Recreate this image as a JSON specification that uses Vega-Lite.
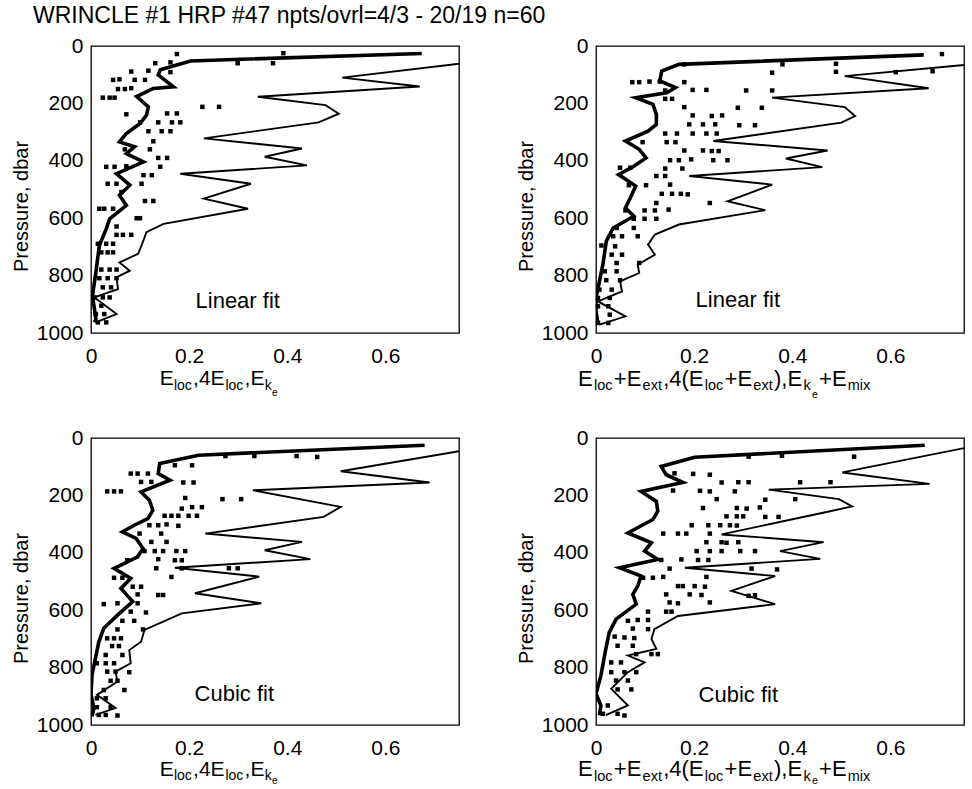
{
"$schema": "https://vega.github.io/schema/vega-lite/v6.json",
"padding": {"left": 10, "top": 5, "right": 0, "bottom": 0},
"background": "white",
"title": {"text": "WRINCLE #1 HRP #47 npts/ovrl=4/3 - 20/19 n=60", "anchor": "start", "frame": "group", "fontSize": 23, "fontWeight": "normal", "font": "Liberation Sans", "color": "black", "dx": -58, "offset": 6},
"config": {
  "font": "Liberation Sans",
  "view": {"stroke": "black", "strokeWidth": 1.3},
  "axis": {"grid": false, "domain": false, "ticks": false, "tickSize": 0, "labelFontSize": 21, "labelColor": "black", "titleColor": "black", "titleFontWeight": "normal", "labelFont": "Liberation Sans", "titleFont": "Liberation Sans"}
},
"datasets": {
  "tl_bold": [{"x":0.674,"p":26},{"x":0.203,"p":52},{"x":0.141,"p":83},{"x":0.137,"p":101},{"x":0.168,"p":142},{"x":0.127,"p":148},{"x":0.093,"p":176},{"x":0.117,"p":212},{"x":0.113,"p":241},{"x":0.100,"p":270},{"x":0.072,"p":305},{"x":0.058,"p":334},{"x":0.089,"p":351},{"x":0.072,"p":375},{"x":0.107,"p":404},{"x":0.052,"p":445},{"x":0.079,"p":485},{"x":0.058,"p":520},{"x":0.072,"p":555},{"x":0.038,"p":602},{"x":0.031,"p":637},{"x":0.017,"p":695},{"x":0.010,"p":788},{"x":0.003,"p":870},{"x":0.007,"p":916},{"x":0.010,"p":952},{"x":0.007,"p":963}],
  "tl_thin": [{"x":0.8,"p":52},{"x":0.512,"p":110},{"x":0.67,"p":141},{"x":0.34,"p":177},{"x":0.478,"p":206},{"x":0.505,"p":236},{"x":0.464,"p":266},{"x":0.23,"p":322},{"x":0.43,"p":357},{"x":0.354,"p":386},{"x":0.44,"p":416},{"x":0.182,"p":445},{"x":0.326,"p":480},{"x":0.23,"p":532},{"x":0.32,"p":567},{"x":0.148,"p":620},{"x":0.113,"p":649},{"x":0.103,"p":695},{"x":0.096,"p":724},{"x":0.058,"p":754},{"x":0.079,"p":783},{"x":0.052,"p":806},{"x":0.055,"p":847},{"x":0.007,"p":876},{"x":0.052,"p":934},{"x":0.01,"p":963}],
  "tl_pts": [{"x":0.175,"p":28},{"x":0.392,"p":25},{"x":0.131,"p":60},{"x":0.162,"p":57},{"x":0.299,"p":60},{"x":0.371,"p":60},{"x":0.082,"p":89},{"x":0.117,"p":86},{"x":0.162,"p":91},{"x":0.045,"p":118},{"x":0.058,"p":116},{"x":0.089,"p":118},{"x":0.110,"p":118},{"x":0.055,"p":150},{"x":0.069,"p":150},{"x":0.082,"p":147},{"x":0.024,"p":180},{"x":0.038,"p":180},{"x":0.048,"p":180},{"x":0.227,"p":212},{"x":0.261,"p":212},{"x":0.072,"p":238},{"x":0.155,"p":235},{"x":0.175,"p":235},{"x":0.100,"p":266},{"x":0.137,"p":266},{"x":0.165,"p":266},{"x":0.182,"p":266},{"x":0.117,"p":297},{"x":0.144,"p":297},{"x":0.162,"p":297},{"x":0.127,"p":332},{"x":0.069,"p":360},{"x":0.120,"p":360},{"x":0.137,"p":390},{"x":0.155,"p":390},{"x":0.031,"p":421},{"x":0.048,"p":421},{"x":0.072,"p":419},{"x":0.141,"p":421},{"x":0.107,"p":450},{"x":0.124,"p":450},{"x":0.034,"p":480},{"x":0.052,"p":480},{"x":0.103,"p":480},{"x":0.062,"p":509},{"x":0.110,"p":540},{"x":0.127,"p":540},{"x":0.017,"p":567},{"x":0.027,"p":567},{"x":0.045,"p":567},{"x":0.093,"p":600},{"x":0.100,"p":600},{"x":0.052,"p":629},{"x":0.052,"p":658},{"x":0.065,"p":658},{"x":0.082,"p":658},{"x":0.014,"p":689},{"x":0.031,"p":689},{"x":0.045,"p":689},{"x":0.021,"p":719},{"x":0.034,"p":719},{"x":0.045,"p":719},{"x":0.021,"p":779},{"x":0.038,"p":779},{"x":0.052,"p":779},{"x":0.017,"p":809},{"x":0.034,"p":809},{"x":0.052,"p":809},{"x":0.024,"p":841},{"x":0.041,"p":841},{"x":0.007,"p":876},{"x":0.024,"p":876},{"x":0.038,"p":876},{"x":0.021,"p":905},{"x":0.010,"p":934},{"x":0.027,"p":934},{"x":0.014,"p":963},{"x":0.031,"p":963}],
  "tr_bold": [{"x":0.668,"p":31},{"x":0.169,"p":64},{"x":0.134,"p":87},{"x":0.130,"p":122},{"x":0.162,"p":145},{"x":0.144,"p":163},{"x":0.081,"p":180},{"x":0.116,"p":203},{"x":0.123,"p":238},{"x":0.123,"p":273},{"x":0.106,"p":297},{"x":0.060,"p":331},{"x":0.088,"p":360},{"x":0.102,"p":390},{"x":0.077,"p":419},{"x":0.046,"p":448},{"x":0.081,"p":488},{"x":0.070,"p":529},{"x":0.060,"p":564},{"x":0.077,"p":593},{"x":0.035,"p":634},{"x":0.021,"p":680},{"x":0.014,"p":762},{"x":0.007,"p":820},{"x":0.0,"p":878},{"x":0.0,"p":924},{"x":0.004,"p":965}],
  "tr_thin": [{"x":0.8,"p":58},{"x":0.507,"p":105},{"x":0.678,"p":147},{"x":0.359,"p":180},{"x":0.507,"p":213},{"x":0.528,"p":244},{"x":0.5,"p":267},{"x":0.239,"p":331},{"x":0.472,"p":364},{"x":0.387,"p":392},{"x":0.461,"p":422},{"x":0.190,"p":453},{"x":0.359,"p":483},{"x":0.268,"p":541},{"x":0.345,"p":572},{"x":0.169,"p":622},{"x":0.120,"p":657},{"x":0.106,"p":692},{"x":0.120,"p":727},{"x":0.085,"p":762},{"x":0.088,"p":791},{"x":0.049,"p":820},{"x":0.053,"p":855},{"x":0.004,"p":890},{"x":0.060,"p":942},{"x":0.007,"p":971}],
  "tr_pts": [{"x":0.180,"p":64},{"x":0.380,"p":64},{"x":0.359,"p":93},{"x":0.489,"p":62},{"x":0.489,"p":90},{"x":0.705,"p":28},{"x":0.686,"p":88},{"x":0.611,"p":91},{"x":0.074,"p":126},{"x":0.088,"p":126},{"x":0.109,"p":124},{"x":0.130,"p":124},{"x":0.180,"p":126},{"x":0.141,"p":155},{"x":0.197,"p":153},{"x":0.225,"p":153},{"x":0.306,"p":155},{"x":0.359,"p":155},{"x":0.141,"p":184},{"x":0.155,"p":184},{"x":0.180,"p":213},{"x":0.289,"p":215},{"x":0.338,"p":215},{"x":0.197,"p":242},{"x":0.236,"p":244},{"x":0.257,"p":242},{"x":0.190,"p":273},{"x":0.218,"p":273},{"x":0.243,"p":273},{"x":0.292,"p":276},{"x":0.324,"p":276},{"x":0.141,"p":305},{"x":0.165,"p":305},{"x":0.197,"p":305},{"x":0.225,"p":305},{"x":0.246,"p":305},{"x":0.095,"p":335},{"x":0.144,"p":335},{"x":0.162,"p":335},{"x":0.180,"p":364},{"x":0.218,"p":364},{"x":0.236,"p":366},{"x":0.250,"p":366},{"x":0.151,"p":398},{"x":0.169,"p":398},{"x":0.194,"p":395},{"x":0.239,"p":398},{"x":0.268,"p":398},{"x":0.049,"p":424},{"x":0.070,"p":424},{"x":0.141,"p":427},{"x":0.176,"p":427},{"x":0.123,"p":453},{"x":0.141,"p":453},{"x":0.067,"p":485},{"x":0.102,"p":485},{"x":0.151,"p":483},{"x":0.134,"p":515},{"x":0.155,"p":515},{"x":0.173,"p":515},{"x":0.187,"p":517},{"x":0.232,"p":547},{"x":0.123,"p":547},{"x":0.060,"p":573},{"x":0.099,"p":573},{"x":0.120,"p":573},{"x":0.148,"p":570},{"x":0.077,"p":602},{"x":0.099,"p":602},{"x":0.123,"p":602},{"x":0.042,"p":634},{"x":0.077,"p":634},{"x":0.035,"p":663},{"x":0.053,"p":663},{"x":0.085,"p":663},{"x":0.011,"p":695},{"x":0.039,"p":698},{"x":0.032,"p":727},{"x":0.053,"p":727},{"x":0.042,"p":756},{"x":0.088,"p":756},{"x":0.018,"p":785},{"x":0.042,"p":785},{"x":0.021,"p":816},{"x":0.049,"p":816},{"x":0.007,"p":849},{"x":0.032,"p":849},{"x":0.004,"p":878},{"x":0.028,"p":878},{"x":0.004,"p":907},{"x":0.025,"p":907},{"x":0.028,"p":936},{"x":0.004,"p":965},{"x":0.025,"p":965}],
  "bl_bold": [{"x":0.68,"p":25},{"x":0.219,"p":60},{"x":0.140,"p":89},{"x":0.137,"p":124},{"x":0.161,"p":147},{"x":0.102,"p":188},{"x":0.119,"p":217},{"x":0.126,"p":252},{"x":0.116,"p":281},{"x":0.088,"p":304},{"x":0.064,"p":327},{"x":0.092,"p":350},{"x":0.106,"p":385},{"x":0.095,"p":414},{"x":0.047,"p":454},{"x":0.081,"p":489},{"x":0.061,"p":524},{"x":0.085,"p":570},{"x":0.054,"p":617},{"x":0.026,"p":663},{"x":0.016,"p":710},{"x":0.009,"p":768},{"x":0.002,"p":826},{"x":0.0,"p":895},{"x":0.006,"p":941},{"x":0.002,"p":970}],
  "bl_thin": [{"x":0.85,"p":17},{"x":0.509,"p":116},{"x":0.69,"p":155},{"x":0.33,"p":182},{"x":0.509,"p":240},{"x":0.474,"p":275},{"x":0.233,"p":333},{"x":0.43,"p":362},{"x":0.354,"p":391},{"x":0.447,"p":422},{"x":0.171,"p":452},{"x":0.343,"p":483},{"x":0.212,"p":541},{"x":0.347,"p":576},{"x":0.185,"p":611},{"x":0.109,"p":669},{"x":0.102,"p":710},{"x":0.078,"p":739},{"x":0.081,"p":785},{"x":0.05,"p":814},{"x":0.054,"p":849},{"x":0.012,"p":895},{"x":0.05,"p":941},{"x":0.009,"p":965}],
  "bl_pts": [{"x":0.419,"p":63},{"x":0.461,"p":66},{"x":0.333,"p":63},{"x":0.274,"p":63},{"x":0.171,"p":95},{"x":0.206,"p":95},{"x":0.081,"p":124},{"x":0.095,"p":124},{"x":0.116,"p":124},{"x":0.102,"p":153},{"x":0.123,"p":153},{"x":0.188,"p":155},{"x":0.209,"p":155},{"x":0.033,"p":186},{"x":0.047,"p":186},{"x":0.061,"p":186},{"x":0.192,"p":209},{"x":0.268,"p":213},{"x":0.306,"p":213},{"x":0.185,"p":246},{"x":0.206,"p":241},{"x":0.226,"p":241},{"x":0.150,"p":271},{"x":0.164,"p":271},{"x":0.178,"p":271},{"x":0.199,"p":271},{"x":0.216,"p":271},{"x":0.119,"p":304},{"x":0.137,"p":304},{"x":0.154,"p":301},{"x":0.178,"p":306},{"x":0.099,"p":333},{"x":0.143,"p":333},{"x":0.123,"p":362},{"x":0.154,"p":362},{"x":0.109,"p":394},{"x":0.130,"p":394},{"x":0.147,"p":394},{"x":0.174,"p":394},{"x":0.192,"p":394},{"x":0.074,"p":426},{"x":0.137,"p":422},{"x":0.171,"p":426},{"x":0.185,"p":426},{"x":0.133,"p":454},{"x":0.185,"p":454},{"x":0.281,"p":454},{"x":0.299,"p":454},{"x":0.047,"p":487},{"x":0.064,"p":487},{"x":0.164,"p":484},{"x":0.085,"p":518},{"x":0.102,"p":518},{"x":0.095,"p":545},{"x":0.137,"p":547},{"x":0.147,"p":547},{"x":0.026,"p":579},{"x":0.054,"p":576},{"x":0.095,"p":576},{"x":0.081,"p":605},{"x":0.112,"p":608},{"x":0.064,"p":637},{"x":0.088,"p":637},{"x":0.054,"p":667},{"x":0.106,"p":667},{"x":0.033,"p":698},{"x":0.047,"p":698},{"x":0.061,"p":698},{"x":0.043,"p":725},{"x":0.057,"p":725},{"x":0.030,"p":756},{"x":0.064,"p":756},{"x":0.012,"p":785},{"x":0.030,"p":785},{"x":0.047,"p":785},{"x":0.033,"p":814},{"x":0.050,"p":814},{"x":0.078,"p":816},{"x":0.040,"p":846},{"x":0.054,"p":846},{"x":0.026,"p":878},{"x":0.068,"p":878},{"x":0.012,"p":907},{"x":0.030,"p":907},{"x":0.012,"p":938},{"x":0.040,"p":938},{"x":0.016,"p":965},{"x":0.030,"p":965},{"x":0.054,"p":967}],
  "br_bold": [{"x":0.67,"p":25},{"x":0.201,"p":67},{"x":0.133,"p":99},{"x":0.143,"p":128},{"x":0.177,"p":155},{"x":0.092,"p":186},{"x":0.123,"p":221},{"x":0.126,"p":255},{"x":0.116,"p":284},{"x":0.065,"p":331},{"x":0.113,"p":365},{"x":0.099,"p":394},{"x":0.126,"p":423},{"x":0.048,"p":452},{"x":0.092,"p":481},{"x":0.085,"p":516},{"x":0.075,"p":545},{"x":0.082,"p":579},{"x":0.041,"p":631},{"x":0.027,"p":677},{"x":0.020,"p":735},{"x":0.010,"p":828},{"x":0.0,"p":891},{"x":0.010,"p":932},{"x":0.007,"p":966}],
  "br_thin": [{"x":0.78,"p":25},{"x":0.502,"p":120},{"x":0.68,"p":160},{"x":0.352,"p":180},{"x":0.495,"p":213},{"x":0.522,"p":238},{"x":0.47,"p":258},{"x":0.256,"p":336},{"x":0.464,"p":363},{"x":0.375,"p":394},{"x":0.457,"p":421},{"x":0.181,"p":452},{"x":0.365,"p":481},{"x":0.276,"p":533},{"x":0.365,"p":579},{"x":0.167,"p":620},{"x":0.119,"p":666},{"x":0.113,"p":700},{"x":0.123,"p":735},{"x":0.065,"p":758},{"x":0.099,"p":782},{"x":0.065,"p":816},{"x":0.031,"p":874},{"x":0.065,"p":932},{"x":0.02,"p":966}],
  "br_pts": [{"x":0.526,"p":65},{"x":0.379,"p":62},{"x":0.311,"p":65},{"x":0.160,"p":123},{"x":0.198,"p":125},{"x":0.232,"p":128},{"x":0.256,"p":155},{"x":0.290,"p":154},{"x":0.311,"p":154},{"x":0.416,"p":154},{"x":0.478,"p":154},{"x":0.157,"p":183},{"x":0.212,"p":184},{"x":0.232,"p":186},{"x":0.283,"p":186},{"x":0.246,"p":213},{"x":0.345,"p":215},{"x":0.406,"p":213},{"x":0.218,"p":244},{"x":0.287,"p":244},{"x":0.307,"p":246},{"x":0.334,"p":242},{"x":0.266,"p":273},{"x":0.287,"p":273},{"x":0.300,"p":273},{"x":0.345,"p":275},{"x":0.372,"p":275},{"x":0.195,"p":304},{"x":0.229,"p":304},{"x":0.253,"p":304},{"x":0.273,"p":304},{"x":0.287,"p":305},{"x":0.137,"p":333},{"x":0.167,"p":333},{"x":0.184,"p":333},{"x":0.232,"p":333},{"x":0.225,"p":363},{"x":0.256,"p":363},{"x":0.266,"p":365},{"x":0.290,"p":363},{"x":0.205,"p":394},{"x":0.232,"p":394},{"x":0.256,"p":394},{"x":0.294,"p":394},{"x":0.324,"p":394},{"x":0.133,"p":425},{"x":0.174,"p":423},{"x":0.208,"p":425},{"x":0.229,"p":425},{"x":0.150,"p":455},{"x":0.317,"p":455},{"x":0.369,"p":458},{"x":0.096,"p":487},{"x":0.116,"p":487},{"x":0.137,"p":484},{"x":0.225,"p":484},{"x":0.167,"p":516},{"x":0.177,"p":516},{"x":0.201,"p":516},{"x":0.222,"p":518},{"x":0.143,"p":545},{"x":0.191,"p":545},{"x":0.215,"p":547},{"x":0.150,"p":573},{"x":0.167,"p":576},{"x":0.232,"p":573},{"x":0.311,"p":550},{"x":0.324,"p":548},{"x":0.106,"p":605},{"x":0.143,"p":605},{"x":0.154,"p":605},{"x":0.065,"p":637},{"x":0.085,"p":634},{"x":0.106,"p":634},{"x":0.075,"p":664},{"x":0.106,"p":666},{"x":0.038,"p":692},{"x":0.058,"p":695},{"x":0.078,"p":697},{"x":0.044,"p":724},{"x":0.075,"p":724},{"x":0.082,"p":753},{"x":0.113,"p":753},{"x":0.126,"p":753},{"x":0.031,"p":782},{"x":0.051,"p":782},{"x":0.031,"p":816},{"x":0.058,"p":816},{"x":0.082,"p":816},{"x":0.041,"p":845},{"x":0.065,"p":845},{"x":0.044,"p":876},{"x":0.072,"p":876},{"x":0.024,"p":932},{"x":0.014,"p":961},{"x":0.044,"p":961},{"x":0.058,"p":967}]
},
"columns": 2,
"spacing": {"row": 105, "column": 137},
"bounds": "flush",
"concat": [
  {
    "width": 368, "height": 287,
    "layer": [
      {"data": {"name": "tl_thin"}, "mark": {"type": "line", "clip": true, "color": "black", "strokeWidth": 1.9},
       "encoding": {
        "x": {"field": "x", "type": "quantitative", "scale": {"domain": [0, 0.75], "nice": false, "zero": false}, "axis": {"values": [0, 0.2, 0.4, 0.6], "format": "~g", "title": null, "labelPadding": 12, "labelFlush": false}},
        "y": {"field": "p", "type": "quantitative", "scale": {"domain": [0, 1000], "reverse": true, "nice": false, "zero": false}, "axis": {"values": [0, 200, 400, 600, 800, 1000], "format": "d", "title": "Pressure, dbar", "titleFontSize": 20, "labelPadding": 8, "labelFlush": false, "titleX": -70, "titleY": 160, "titleAngle": -90, "titleAlign": "center", "titleBaseline": "middle"}},
        "order": {"field": "p", "type": "quantitative"}}},
      {"data": {"name": "tl_bold"}, "mark": {"type": "line", "clip": true, "color": "black", "strokeWidth": 3.6},
       "encoding": {"x": {"field": "x", "type": "quantitative"}, "y": {"field": "p", "type": "quantitative"}, "order": {"field": "p", "type": "quantitative"}}},
      {"data": {"name": "tl_pts"}, "mark": {"type": "square", "filled": true, "color": "black", "size": 20, "opacity": 1},
       "encoding": {"x": {"field": "x", "type": "quantitative"}, "y": {"field": "p", "type": "quantitative"}}},
      {"data": {"values": [{"t": "Linear fit"}]}, "mark": {"type": "text", "fontSize": 22, "align": "center", "baseline": "alphabetic", "color": "black"}, "encoding": {"x": {"datum": 0.299}, "y": {"datum": 914}, "text": {"field": "t"}}},
      {"data": {"values": [{"t": "E"}]}, "mark": {"type": "text", "fontSize": 21, "align": "left", "baseline": "alphabetic", "color": "black"}, "encoding": {"x": {"datum": 0.140}, "y": {"datum": 1180}, "text": {"field": "t"}}},
      {"data": {"values": [{"t": "loc"}]}, "mark": {"type": "text", "fontSize": 14, "align": "left", "baseline": "alphabetic", "color": "black"}, "encoding": {"x": {"datum": 0.169}, "y": {"datum": 1198}, "text": {"field": "t"}}},
      {"data": {"values": [{"t": ",4E"}]}, "mark": {"type": "text", "fontSize": 21, "align": "left", "baseline": "alphabetic", "color": "black"}, "encoding": {"x": {"datum": 0.208}, "y": {"datum": 1180}, "text": {"field": "t"}}},
      {"data": {"values": [{"t": "loc"}]}, "mark": {"type": "text", "fontSize": 14, "align": "left", "baseline": "alphabetic", "color": "black"}, "encoding": {"x": {"datum": 0.274}, "y": {"datum": 1198}, "text": {"field": "t"}}},
      {"data": {"values": [{"t": ",E"}]}, "mark": {"type": "text", "fontSize": 21, "align": "left", "baseline": "alphabetic", "color": "black"}, "encoding": {"x": {"datum": 0.313}, "y": {"datum": 1180}, "text": {"field": "t"}}},
      {"data": {"values": [{"t": "k"}]}, "mark": {"type": "text", "fontSize": 14, "align": "left", "baseline": "alphabetic", "color": "black"}, "encoding": {"x": {"datum": 0.354}, "y": {"datum": 1198}, "text": {"field": "t"}}},
      {"data": {"values": [{"t": "e"}]}, "mark": {"type": "text", "fontSize": 10, "align": "left", "baseline": "alphabetic", "color": "black"}, "encoding": {"x": {"datum": 0.369}, "y": {"datum": 1220}, "text": {"field": "t"}}}
    ]
  },
  {
    "width": 368, "height": 287,
    "layer": [
      {"data": {"name": "tr_thin"}, "mark": {"type": "line", "clip": true, "color": "black", "strokeWidth": 1.9},
       "encoding": {
        "x": {"field": "x", "type": "quantitative", "scale": {"domain": [0, 0.75], "nice": false, "zero": false}, "axis": {"values": [0, 0.2, 0.4, 0.6], "format": "~g", "title": null, "labelPadding": 12, "labelFlush": false}},
        "y": {"field": "p", "type": "quantitative", "scale": {"domain": [0, 1000], "reverse": true, "nice": false, "zero": false}, "axis": {"values": [0, 200, 400, 600, 800, 1000], "format": "d", "title": "Pressure, dbar", "titleFontSize": 20, "labelPadding": 8, "labelFlush": false, "titleX": -70, "titleY": 160, "titleAngle": -90, "titleAlign": "center", "titleBaseline": "middle"}},
        "order": {"field": "p", "type": "quantitative"}}},
      {"data": {"name": "tr_bold"}, "mark": {"type": "line", "clip": true, "color": "black", "strokeWidth": 3.6},
       "encoding": {"x": {"field": "x", "type": "quantitative"}, "y": {"field": "p", "type": "quantitative"}, "order": {"field": "p", "type": "quantitative"}}},
      {"data": {"name": "tr_pts"}, "mark": {"type": "square", "filled": true, "color": "black", "size": 20, "opacity": 1},
       "encoding": {"x": {"field": "x", "type": "quantitative"}, "y": {"field": "p", "type": "quantitative"}}},
      {"data": {"values": [{"t": "Linear fit"}]}, "mark": {"type": "text", "fontSize": 22, "align": "center", "baseline": "alphabetic", "color": "black"}, "encoding": {"x": {"datum": 0.289}, "y": {"datum": 909}, "text": {"field": "t"}}},
      {"data": {"values": [{"t": "E"}]}, "mark": {"type": "text", "fontSize": 22, "align": "left", "baseline": "alphabetic", "color": "black"}, "encoding": {"x": {"datum": -0.0367}, "y": {"datum": 1183}, "text": {"field": "t"}}},
      {"data": {"values": [{"t": "loc"}]}, "mark": {"type": "text", "fontSize": 14.5, "align": "left", "baseline": "alphabetic", "color": "black"}, "encoding": {"x": {"datum": -0.0041}, "y": {"datum": 1200}, "text": {"field": "t"}}},
      {"data": {"values": [{"t": "+E"}]}, "mark": {"type": "text", "fontSize": 22, "align": "left", "baseline": "alphabetic", "color": "black"}, "encoding": {"x": {"datum": 0.0363}, "y": {"datum": 1183}, "text": {"field": "t"}}},
      {"data": {"values": [{"t": "ext"}]}, "mark": {"type": "text", "fontSize": 14.5, "align": "left", "baseline": "alphabetic", "color": "black"}, "encoding": {"x": {"datum": 0.0950}, "y": {"datum": 1200}, "text": {"field": "t"}}},
      {"data": {"values": [{"t": ",4(E"}]}, "mark": {"type": "text", "fontSize": 22, "align": "left", "baseline": "alphabetic", "color": "black"}, "encoding": {"x": {"datum": 0.1369}, "y": {"datum": 1183}, "text": {"field": "t"}}},
      {"data": {"values": [{"t": "loc"}]}, "mark": {"type": "text", "fontSize": 14.5, "align": "left", "baseline": "alphabetic", "color": "black"}, "encoding": {"x": {"datum": 0.2217}, "y": {"datum": 1200}, "text": {"field": "t"}}},
      {"data": {"values": [{"t": "+E"}]}, "mark": {"type": "text", "fontSize": 22, "align": "left", "baseline": "alphabetic", "color": "black"}, "encoding": {"x": {"datum": 0.2620}, "y": {"datum": 1183}, "text": {"field": "t"}}},
      {"data": {"values": [{"t": "ext"}]}, "mark": {"type": "text", "fontSize": 14.5, "align": "left", "baseline": "alphabetic", "color": "black"}, "encoding": {"x": {"datum": 0.3207}, "y": {"datum": 1200}, "text": {"field": "t"}}},
      {"data": {"values": [{"t": "),E"}]}, "mark": {"type": "text", "fontSize": 22, "align": "left", "baseline": "alphabetic", "color": "black"}, "encoding": {"x": {"datum": 0.3628}, "y": {"datum": 1183}, "text": {"field": "t"}}},
      {"data": {"values": [{"t": "k"}]}, "mark": {"type": "text", "fontSize": 14.5, "align": "left", "baseline": "alphabetic", "color": "black"}, "encoding": {"x": {"datum": 0.4228}, "y": {"datum": 1200}, "text": {"field": "t"}}},
      {"data": {"values": [{"t": "e"}]}, "mark": {"type": "text", "fontSize": 10.5, "align": "left", "baseline": "alphabetic", "color": "black"}, "encoding": {"x": {"datum": 0.4402}, "y": {"datum": 1225}, "text": {"field": "t"}}},
      {"data": {"values": [{"t": "+E"}]}, "mark": {"type": "text", "fontSize": 22, "align": "left", "baseline": "alphabetic", "color": "black"}, "encoding": {"x": {"datum": 0.4547}, "y": {"datum": 1183}, "text": {"field": "t"}}},
      {"data": {"values": [{"t": "mix"}]}, "mark": {"type": "text", "fontSize": 14.5, "align": "left", "baseline": "alphabetic", "color": "black"}, "encoding": {"x": {"datum": 0.5131}, "y": {"datum": 1200}, "text": {"field": "t"}}}
    ]
  },
  {
    "width": 368, "height": 287,
    "layer": [
      {"data": {"name": "bl_thin"}, "mark": {"type": "line", "clip": true, "color": "black", "strokeWidth": 1.9},
       "encoding": {
        "x": {"field": "x", "type": "quantitative", "scale": {"domain": [0, 0.75], "nice": false, "zero": false}, "axis": {"values": [0, 0.2, 0.4, 0.6], "format": "~g", "title": null, "labelPadding": 12, "labelFlush": false}},
        "y": {"field": "p", "type": "quantitative", "scale": {"domain": [0, 1000], "reverse": true, "nice": false, "zero": false}, "axis": {"values": [0, 200, 400, 600, 800, 1000], "format": "d", "title": "Pressure, dbar", "titleFontSize": 20, "labelPadding": 8, "labelFlush": false, "titleX": -70, "titleY": 160, "titleAngle": -90, "titleAlign": "center", "titleBaseline": "middle"}},
        "order": {"field": "p", "type": "quantitative"}}},
      {"data": {"name": "bl_bold"}, "mark": {"type": "line", "clip": true, "color": "black", "strokeWidth": 3.6},
       "encoding": {"x": {"field": "x", "type": "quantitative"}, "y": {"field": "p", "type": "quantitative"}, "order": {"field": "p", "type": "quantitative"}}},
      {"data": {"name": "bl_pts"}, "mark": {"type": "square", "filled": true, "color": "black", "size": 20, "opacity": 1},
       "encoding": {"x": {"field": "x", "type": "quantitative"}, "y": {"field": "p", "type": "quantitative"}}},
      {"data": {"values": [{"t": "Cubic fit"}]}, "mark": {"type": "text", "fontSize": 22, "align": "center", "baseline": "alphabetic", "color": "black"}, "encoding": {"x": {"datum": 0.292}, "y": {"datum": 918}, "text": {"field": "t"}}},
      {"data": {"values": [{"t": "E"}]}, "mark": {"type": "text", "fontSize": 21, "align": "left", "baseline": "alphabetic", "color": "black"}, "encoding": {"x": {"datum": 0.140}, "y": {"datum": 1176}, "text": {"field": "t"}}},
      {"data": {"values": [{"t": "loc"}]}, "mark": {"type": "text", "fontSize": 14, "align": "left", "baseline": "alphabetic", "color": "black"}, "encoding": {"x": {"datum": 0.169}, "y": {"datum": 1193}, "text": {"field": "t"}}},
      {"data": {"values": [{"t": ",4E"}]}, "mark": {"type": "text", "fontSize": 21, "align": "left", "baseline": "alphabetic", "color": "black"}, "encoding": {"x": {"datum": 0.208}, "y": {"datum": 1176}, "text": {"field": "t"}}},
      {"data": {"values": [{"t": "loc"}]}, "mark": {"type": "text", "fontSize": 14, "align": "left", "baseline": "alphabetic", "color": "black"}, "encoding": {"x": {"datum": 0.274}, "y": {"datum": 1193}, "text": {"field": "t"}}},
      {"data": {"values": [{"t": ",E"}]}, "mark": {"type": "text", "fontSize": 21, "align": "left", "baseline": "alphabetic", "color": "black"}, "encoding": {"x": {"datum": 0.313}, "y": {"datum": 1176}, "text": {"field": "t"}}},
      {"data": {"values": [{"t": "k"}]}, "mark": {"type": "text", "fontSize": 14, "align": "left", "baseline": "alphabetic", "color": "black"}, "encoding": {"x": {"datum": 0.354}, "y": {"datum": 1193}, "text": {"field": "t"}}},
      {"data": {"values": [{"t": "e"}]}, "mark": {"type": "text", "fontSize": 10, "align": "left", "baseline": "alphabetic", "color": "black"}, "encoding": {"x": {"datum": 0.369}, "y": {"datum": 1207}, "text": {"field": "t"}}}
    ]
  },
  {
    "width": 368, "height": 287,
    "layer": [
      {"data": {"name": "br_thin"}, "mark": {"type": "line", "clip": true, "color": "black", "strokeWidth": 1.9},
       "encoding": {
        "x": {"field": "x", "type": "quantitative", "scale": {"domain": [0, 0.75], "nice": false, "zero": false}, "axis": {"values": [0, 0.2, 0.4, 0.6], "format": "~g", "title": null, "labelPadding": 12, "labelFlush": false}},
        "y": {"field": "p", "type": "quantitative", "scale": {"domain": [0, 1000], "reverse": true, "nice": false, "zero": false}, "axis": {"values": [0, 200, 400, 600, 800, 1000], "format": "d", "title": "Pressure, dbar", "titleFontSize": 20, "labelPadding": 8, "labelFlush": false, "titleX": -70, "titleY": 160, "titleAngle": -90, "titleAlign": "center", "titleBaseline": "middle"}},
        "order": {"field": "p", "type": "quantitative"}}},
      {"data": {"name": "br_bold"}, "mark": {"type": "line", "clip": true, "color": "black", "strokeWidth": 3.6},
       "encoding": {"x": {"field": "x", "type": "quantitative"}, "y": {"field": "p", "type": "quantitative"}, "order": {"field": "p", "type": "quantitative"}}},
      {"data": {"name": "br_pts"}, "mark": {"type": "square", "filled": true, "color": "black", "size": 20, "opacity": 1},
       "encoding": {"x": {"field": "x", "type": "quantitative"}, "y": {"field": "p", "type": "quantitative"}}},
      {"data": {"values": [{"t": "Cubic fit"}]}, "mark": {"type": "text", "fontSize": 22, "align": "center", "baseline": "alphabetic", "color": "black"}, "encoding": {"x": {"datum": 0.29}, "y": {"datum": 920}, "text": {"field": "t"}}},
      {"data": {"values": [{"t": "E"}]}, "mark": {"type": "text", "fontSize": 22, "align": "left", "baseline": "alphabetic", "color": "black"}, "encoding": {"x": {"datum": -0.0367}, "y": {"datum": 1178}, "text": {"field": "t"}}},
      {"data": {"values": [{"t": "loc"}]}, "mark": {"type": "text", "fontSize": 14.5, "align": "left", "baseline": "alphabetic", "color": "black"}, "encoding": {"x": {"datum": -0.0041}, "y": {"datum": 1194}, "text": {"field": "t"}}},
      {"data": {"values": [{"t": "+E"}]}, "mark": {"type": "text", "fontSize": 22, "align": "left", "baseline": "alphabetic", "color": "black"}, "encoding": {"x": {"datum": 0.0363}, "y": {"datum": 1178}, "text": {"field": "t"}}},
      {"data": {"values": [{"t": "ext"}]}, "mark": {"type": "text", "fontSize": 14.5, "align": "left", "baseline": "alphabetic", "color": "black"}, "encoding": {"x": {"datum": 0.0950}, "y": {"datum": 1194}, "text": {"field": "t"}}},
      {"data": {"values": [{"t": ",4(E"}]}, "mark": {"type": "text", "fontSize": 22, "align": "left", "baseline": "alphabetic", "color": "black"}, "encoding": {"x": {"datum": 0.1369}, "y": {"datum": 1178}, "text": {"field": "t"}}},
      {"data": {"values": [{"t": "loc"}]}, "mark": {"type": "text", "fontSize": 14.5, "align": "left", "baseline": "alphabetic", "color": "black"}, "encoding": {"x": {"datum": 0.2217}, "y": {"datum": 1194}, "text": {"field": "t"}}},
      {"data": {"values": [{"t": "+E"}]}, "mark": {"type": "text", "fontSize": 22, "align": "left", "baseline": "alphabetic", "color": "black"}, "encoding": {"x": {"datum": 0.2620}, "y": {"datum": 1178}, "text": {"field": "t"}}},
      {"data": {"values": [{"t": "ext"}]}, "mark": {"type": "text", "fontSize": 14.5, "align": "left", "baseline": "alphabetic", "color": "black"}, "encoding": {"x": {"datum": 0.3207}, "y": {"datum": 1194}, "text": {"field": "t"}}},
      {"data": {"values": [{"t": "),E"}]}, "mark": {"type": "text", "fontSize": 22, "align": "left", "baseline": "alphabetic", "color": "black"}, "encoding": {"x": {"datum": 0.3628}, "y": {"datum": 1178}, "text": {"field": "t"}}},
      {"data": {"values": [{"t": "k"}]}, "mark": {"type": "text", "fontSize": 14.5, "align": "left", "baseline": "alphabetic", "color": "black"}, "encoding": {"x": {"datum": 0.4228}, "y": {"datum": 1194}, "text": {"field": "t"}}},
      {"data": {"values": [{"t": "e"}]}, "mark": {"type": "text", "fontSize": 10.5, "align": "left", "baseline": "alphabetic", "color": "black"}, "encoding": {"x": {"datum": 0.4402}, "y": {"datum": 1207}, "text": {"field": "t"}}},
      {"data": {"values": [{"t": "+E"}]}, "mark": {"type": "text", "fontSize": 22, "align": "left", "baseline": "alphabetic", "color": "black"}, "encoding": {"x": {"datum": 0.4547}, "y": {"datum": 1178}, "text": {"field": "t"}}},
      {"data": {"values": [{"t": "mix"}]}, "mark": {"type": "text", "fontSize": 14.5, "align": "left", "baseline": "alphabetic", "color": "black"}, "encoding": {"x": {"datum": 0.5131}, "y": {"datum": 1194}, "text": {"field": "t"}}}
    ]
  }
]
}
